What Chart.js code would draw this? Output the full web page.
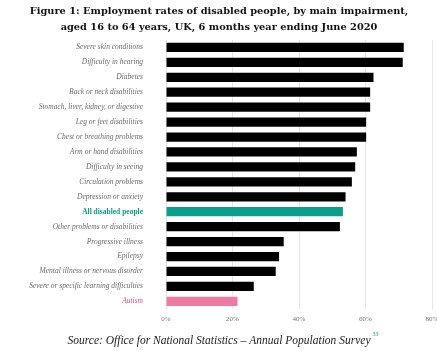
<!DOCTYPE html>
<html>
<head>
<meta charset="utf-8">
<script src="https://cdn.jsdelivr.net/npm/chart.js@4/dist/chart.umd.min.js"></script>
<style>
  html, body { margin: 0; padding: 0; background: #fff; }
  #wrap { width: 437px; height: 351px; }
</style>
</head>
<body>
<div id="wrap"><canvas id="chart" width="437" height="351"></canvas></div>
<script>
// Employment rate (%) by main impairment
const impairments = [
  'Severe skin conditions',
  'Difficulty in hearing',
  'Diabetes',
  'Back or neck disabilities',
  'Stomach, liver, kidney, or digestive',
  'Leg or feet disabilities',
  'Chest or breathing problems',
  'Arm or hand disabilities',
  'Difficulty in seeing',
  'Circulation problems',
  'Depression or anxiety',
  'All disabled people',
  'Other problems or disabilities',
  'Progressive illness',
  'Epilepsy',
  'Mental illness or nervous disorder',
  'Severe or specific learning difficulties',
  'Autism'
];
const employmentRates = [71.5, 71.2, 62.4, 61.4, 61.4, 60.2, 60.2, 57.4, 56.9, 55.9, 54.0, 53.2, 52.3, 35.4, 34.0, 33.0, 26.4, 21.5];
const xTicks = [0, 20, 40, 60, 80];

const TEAL = '#0a9e8b';
const PINK = '#ee7ba3';

const barColour = (label) => {
  if (label === 'All disabled people') return TEAL;
  if (label === 'Autism') return PINK;
  return '#000000';
};
const labelColour = (label) => {
  if (label === 'All disabled people') return TEAL;
  if (label === 'Autism') return '#e0508a';
  return '#6b6b6b';
};

// small teal reference marker after the source line
const footnoteMark = {
  id: 'footnoteMark',
  afterDraw(chart) {
    const sub = chart.boxes.find(b => b.options && b.options.text && b.position === 'bottom');
    if (!sub) return;
    const f = sub.options.font;
    const ctx = chart.ctx;
    ctx.save();
    ctx.font = f.style + ' ' + f.size + 'px ' + f.family;
    const w = ctx.measureText(sub.options.text).width;
    const cx = (sub.left + sub.right) / 2;
    const cy = (sub.top + sub.bottom) / 2;
    ctx.font = '6px "Liberation Serif"';
    ctx.fillStyle = TEAL;
    ctx.textBaseline = 'middle';
    ctx.fillText('33', cx + w / 2 + 2, cy - 4);
    ctx.restore();
  }
};

new Chart(document.getElementById('chart'), {
  type: 'bar',
  data: {
    labels: impairments,
    datasets: [{
      data: employmentRates,
      backgroundColor: impairments.map(barColour),
      borderWidth: 0,
      categoryPercentage: 1,
      barPercentage: 0.62
    }]
  },
  options: {
    indexAxis: 'y',
    responsive: false,
    animation: false,
    layout: { padding: { left: 6, right: 5, top: 3, bottom: 3 } },
    scales: {
      x: {
        min: 0,
        max: 80,
        afterBuildTicks: (scale) => { scale.ticks = xTicks.map(v => ({ value: v })); },
        afterFit: (scale) => { scale.paddingRight = 0; },
        grid: { color: '#e6e6e6', drawTicks: false },
        border: { display: false },
        ticks: {
          padding: 6,
          color: '#777',
          font: { family: 'Liberation Serif', size: 7 },
          callback: (v) => v + '%'
        }
      },
      y: {
        grid: { display: false },
        border: { display: false },
        afterFit: (scale) => { scale.width = 160; },
        ticks: {
          padding: 15,
          autoSkip: false,
          color: (c) => labelColour(impairments[c.index]),
          font: (c) => ({
            family: 'Liberation Serif',
            style: impairments[c.index] === 'All disabled people' ? 'normal' : 'italic',
            weight: impairments[c.index] === 'All disabled people' ? 'bold' : 'normal',
            size: 7.5
          })
        }
      }
    },
    plugins: {
      legend: { display: false },
      tooltip: { enabled: false },
      title: {
        display: true,
        text: ['Figure 1: Employment rates of disabled people, by main impairment,',
               'aged 16 to 64 years, UK, 6 months year ending June 2020'],
        color: '#111',
        font: { family: 'DejaVu Serif', size: 9.8, weight: 'bold', lineHeight: 1.63 },
        padding: { top: 0, bottom: 5 }
      },
      subtitle: {
        display: true,
        position: 'bottom',
        text: 'Source: Office for National Statistics \u2013 Annual Population Survey',
        color: '#222',
        font: { family: 'Liberation Serif', size: 11.5, style: 'italic' },
        padding: { top: 5, bottom: 0 }
      }
    }
  },
  plugins: [footnoteMark]
});
</script>
</body>
</html>
